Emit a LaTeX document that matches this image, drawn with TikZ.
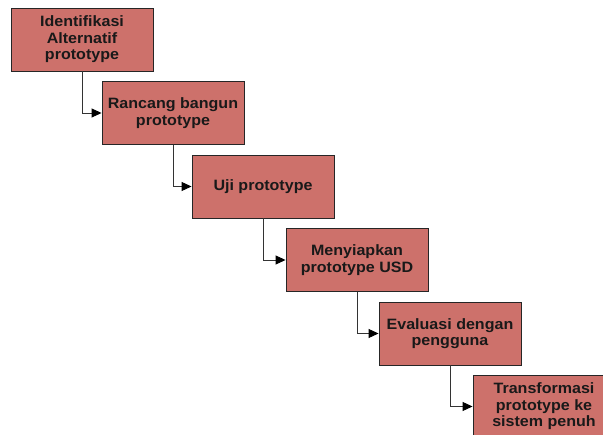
\documentclass[tikz,border=0pt]{standalone}
\usepackage{fontspec}
\setmainfont{Liberation Sans}
\newfontfamily\boxfont[FakeStretch=1.07]{Liberation Sans}
\usetikzlibrary{arrows.meta}
\definecolor{boxfill}{HTML}{CD716B}
\definecolor{boxline}{HTML}{262626}
\definecolor{linkline}{HTML}{333333}
\tikzset{
  stepbox/.style={draw=boxline, line width=0.9pt, fill=boxfill,
    minimum width=142pt, minimum height=63pt, inner sep=0pt,
    align=center, text=black!90,
    font=\boxfont\bfseries\fontsize{15pt}{16.5pt}\selectfont},
  link/.style={draw=linkline, line width=0.9pt,
    -{Triangle[length=10pt,width=9pt,color=black]}}
}
\begin{document}
\begin{tikzpicture}[x=1pt,y=-1pt]
  \useasboundingbox (0,0) rectangle (603,435);
  \clip (0,0) rectangle (603,435);
  % the six stages, stepping down to the right
  \node[stepbox] (s1) at (82,39.5)   {Identifikasi\\Alternatif\\prototype};
  \node[stepbox] (s2) at (173,113)   {Rancang bangun\\prototype};
  \node[stepbox] (s3) at (263,186.5) {Uji prototype};
  \node[stepbox] (s4) at (357,260)   {Menyiapkan\\prototype USD};
  \node[stepbox] (s5) at (450,333.5) {Evaluasi dengan\\pengguna};
  \node[stepbox] (s6) at (544,406.5) {Transformasi\\prototype ke\\sistem penuh};
  % elbow links from each box bottom to the left side of the next
  \draw[link] (s1.south) |- (s2.west);
  \draw[link] (s2.south) |- (s3.west);
  \draw[link] (s3.south) |- (s4.west);
  \draw[link] (s4.south) |- (s5.west);
  \draw[link] (s5.south) |- (s6.west);
\end{tikzpicture}
\end{document}
